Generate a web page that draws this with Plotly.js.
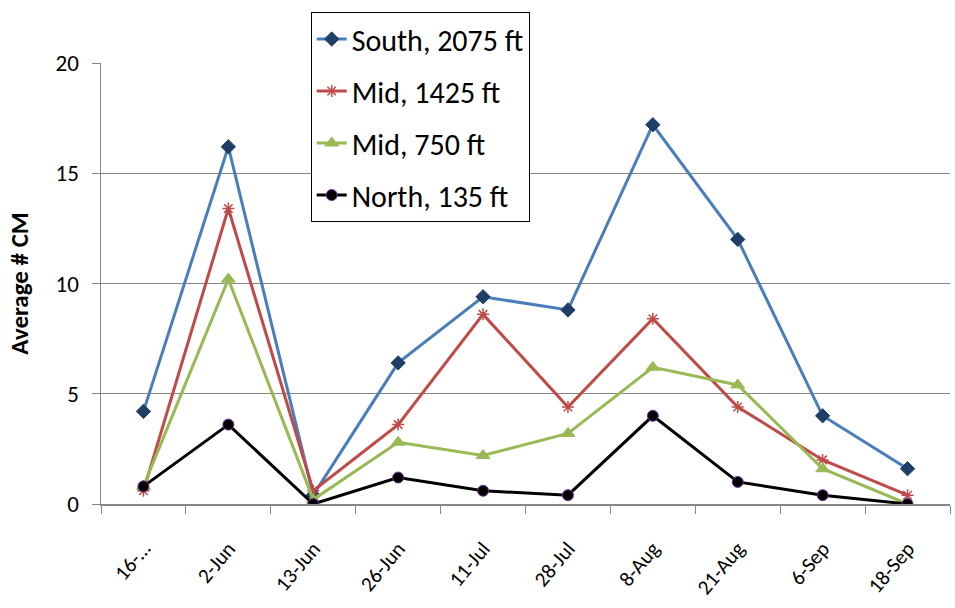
<!DOCTYPE html>
<html>
<head>
<meta charset="utf-8">
<script src="https://cdn.plot.ly/plotly-3.0.1.min.js"></script>
<style>html,body{margin:0;padding:0;background:#fff;}#chart{width:955px;height:608px;}</style>
</head>
<body>
<div id="chart"></div>
<script>
const categories = ["16-\u2026", "2-Jun", "13-Jun", "26-Jun", "11-Jul", "28-Jul", "8-Aug", "21-Aug", "6-Sep", "18-Sep"];
const seriesNames = ["South, 2075 ft", "Mid, 1425 ft", "Mid, 750 ft", "North, 135 ft"];
const south2075 = [4.2, 16.2, 0.4, 6.4, 9.4, 8.8, 17.2, 12.0, 4.0, 1.6];
const mid1425   = [0.6, 13.4, 0.6, 3.6, 8.6, 4.4, 8.4, 4.4, 2.0, 0.4];
const mid750    = [0.8, 10.2, 0.2, 2.8, 2.2, 3.2, 6.2, 5.4, 1.6, 0.0];
const north135  = [0.8, 3.6, 0.0, 1.2, 0.6, 0.4, 4.0, 1.0, 0.4, 0.0];
const yTickVals = [0, 5, 10, 15, 20];

const FONT = "Carlito, Lato, 'Open Sans', sans-serif";

const traces = [
  {y: south2075, name: seriesNames[0], line: {color: "#4A7EBB", width: 3},
   marker: {symbol: "diamond", size: 11, color: "#1F3F66", line: {color: "#1F3F66", width: 1}}},
  {y: mid1425, name: seriesNames[1], line: {color: "#BE4B48", width: 3},
   marker: {symbol: "asterisk-open", size: 10, color: "#BE4B48", line: {color: "#BE4B48", width: 1.5}}},
  {y: mid750, name: seriesNames[2], line: {color: "#98B954", width: 3},
   marker: {symbol: "triangle-up", size: 12, color: "#98B954", line: {color: "#98B954", width: 1}}},
  {y: north135, name: seriesNames[3], line: {color: "#000000", width: 3},
   marker: {symbol: "circle", size: 11, color: "#000000", line: {color: "#7030A0", width: 1}}}
].map((t, i) => Object.assign({x: categories, type: "scatter", mode: "lines+markers", legendgroup: "g" + i}, t));

const layout = {
  width: 955, height: 608,
  margin: {l: 101, r: 5, t: 63, b: 104},
  paper_bgcolor: "#fff", plot_bgcolor: "#fff",
  font: {family: FONT, color: "#000"},
  showlegend: true,
  legend: {
    x: 0.247, y: 1.1156, xanchor: "left", yanchor: "top",
    bordercolor: "#000", borderwidth: 1, bgcolor: "#fff",
    font: {family: FONT, size: 30, color: "#000"},
    traceorder: "grouped", tracegroupgap: 10
  },
  xaxis: {
    type: "category", tickson: "boundaries",
    ticks: "outside", ticklen: 8, tickcolor: "#868686", tickwidth: 1,
    showline: true, linecolor: "#868686", linewidth: 2,
    showgrid: false, tickangle: -50, ticklabelstandoff: 22,
    tickfont: {family: FONT, size: 21, color: "#000"},
    range: [-0.5, 9.5], fixedrange: true
  },
  yaxis: {
    range: [0, 20], tickvals: yTickVals, ticktext: yTickVals.map(String),
    ticks: "outside", ticklen: 8, tickcolor: "#868686",
    showline: true, linecolor: "#868686", linewidth: 1.5,
    showgrid: true, gridcolor: "#868686", gridwidth: 1,
    zeroline: false, ticklabelstandoff: 8,
    tickfont: {family: FONT, size: 23, color: "#000"},
    title: {text: "<b>Average # CM</b>", font: {family: FONT, size: 25, color: "#000"}, standoff: 20}
  }
};

Plotly.newPlot("chart", traces, layout, {displayModeBar: false, staticPlot: true});
</script>
</body>
</html>
